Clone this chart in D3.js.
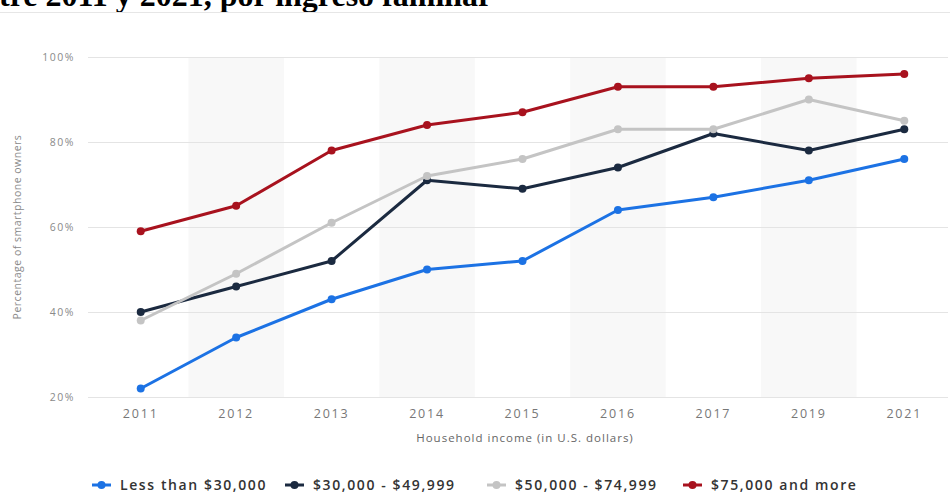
<!DOCTYPE html>
<html>
<head>
<meta charset="utf-8">
<script src="https://cdn.jsdelivr.net/npm/d3@7"></script>
<style>
  body { margin: 0; background: #fff; }
  svg { display: block; }
</style>
</head>
<body>
<svg id="chart" width="950" height="493"></svg>
<script>
// Data
var years = ["2011", "2012", "2013", "2014", "2015", "2016", "2017", "2019", "2021"];
var seriesNames = ["Less than $30,000", "$30,000 - $49,999", "$50,000 - $74,999", "$75,000 and more"];
var seriesColors = ["#1c72e4", "#1b2a40", "#c4c4c4", "#a8121e"];
var lessThan30k = [22, 34, 43, 50, 52, 64, 67, 71, 76];
var from30to50k = [40, 46, 52, 71, 69, 74, 82, 78, 83];
var from50to75k = [38, 49, 61, 72, 76, 83, 83, 90, 85];
var over75k = [59, 65, 78, 84, 87, 93, 93, 95, 96];
var yTicks = [20, 40, 60, 80, 100];

var allSeries = [lessThan30k, from30to50k, from50to75k, over75k];

var svg = d3.select("#chart"),
    width = +svg.attr("width"),
    height = +svg.attr("height");

// cut-off title from the page above
svg.append("text")
    .attr("x", -1)
    .attr("y", 6)
    .attr("font-family", "Liberation Serif, Times New Roman, serif")
    .attr("font-weight", "bold")
    .attr("font-size", 32)
    .attr("fill", "#000")
    .text("tre 2011 y 2021, por ingreso familiar");

svg.append("line")
    .attr("x1", 0).attr("x2", width)
    .attr("y1", 12.5).attr("y2", 12.5)
    .attr("stroke", "#e6e6e6");

// scales
var x = d3.scaleBand()
    .domain(years)
    .range([93, 952]);

var y = d3.scaleLinear()
    .domain([20, 100])
    .range([397, 57]);

// alternating column shading
svg.append("g")
    .selectAll("rect")
    .data(years.filter(function (d, i) { return i % 2 == 1; }))
    .enter()
    .append("rect")
    .attr("x", function (d) { return x(d); })
    .attr("y", y(100))
    .attr("width", x.bandwidth())
    .attr("height", y(20) - y(100))
    .attr("fill", "#f8f8f8");

// y gridlines + labels
var yAxis = svg.append("g")
    .attr("transform", "translate(88,0)")
    .call(d3.axisLeft(y)
        .tickValues(yTicks)
        .tickSize(-(948 - 88))
        .tickPadding(13)
        .tickFormat(function (d) { return d + "%"; }));
yAxis.select(".domain").remove();
yAxis.selectAll(".tick line").attr("stroke", "#e4e4e4");
yAxis.selectAll(".tick text")
    .attr("font-family", "Open Sans, sans-serif")
    .attr("font-size", 10.5)
    .attr("letter-spacing", "1.5px")
    .attr("fill", "#8a8a8a");

// x labels
var xAxis = svg.append("g")
    .attr("transform", "translate(0," + y(20) + ")")
    .call(d3.axisBottom(x).tickSize(0).tickPadding(12));
xAxis.select(".domain").remove();
xAxis.selectAll(".tick text")
    .attr("font-family", "Open Sans, sans-serif")
    .attr("font-size", 12.5)
    .attr("letter-spacing", "1.8px")
    .attr("fill", "#777");

// axis titles
svg.append("text")
    .attr("x", 525)
    .attr("y", 442)
    .attr("text-anchor", "middle")
    .attr("font-family", "Open Sans, sans-serif")
    .attr("font-size", 11.5)
    .attr("letter-spacing", "1px")
    .attr("fill", "#666")
    .text("Household income (in U.S. dollars)");

svg.append("text")
    .attr("transform", "translate(21,227) rotate(-90)")
    .attr("text-anchor", "middle")
    .attr("font-family", "Open Sans, sans-serif")
    .attr("font-size", 10.5)
    .attr("letter-spacing", "0.5px")
    .attr("fill", "#8a8a8a")
    .text("Percentage of smartphone owners");

// lines
var line = d3.line()
    .x(function (d, i) { return x(years[i]) + x.bandwidth() / 2; })
    .y(function (d) { return y(d); });

var groups = svg.append("g")
    .selectAll("g")
    .data(allSeries)
    .enter()
    .append("g");

groups.append("path")
    .attr("d", function (d) { return line(d); })
    .attr("fill", "none")
    .attr("stroke", function (d, i) { return seriesColors[i]; })
    .attr("stroke-width", 3)
    .attr("stroke-linejoin", "round");

groups.each(function (s, si) {
    d3.select(this).selectAll("circle")
        .data(s)
        .enter()
        .append("circle")
        .attr("cx", function (d, i) { return x(years[i]) + x.bandwidth() / 2; })
        .attr("cy", function (d) { return y(d); })
        .attr("r", 4)
        .attr("fill", seriesColors[si]);
});

// legend
var legendX = [92, 285, 487, 683];
var legend = svg.append("g")
    .selectAll("g")
    .data(seriesNames)
    .enter()
    .append("g")
    .attr("transform", function (d, i) { return "translate(" + legendX[i] + ",485)"; });

legend.append("line")
    .attr("x1", 0).attr("x2", 19)
    .attr("stroke", function (d, i) { return seriesColors[i]; })
    .attr("stroke-width", 3);
legend.append("circle")
    .attr("cx", 9.5)
    .attr("r", 4)
    .attr("fill", function (d, i) { return seriesColors[i]; });
legend.append("text")
    .attr("x", 28)
    .attr("y", 5)
    .attr("font-family", "Open Sans, sans-serif")
    .attr("font-size", 14)
    .attr("font-weight", 600)
    .attr("letter-spacing", "1.6px")
    .attr("fill", "#333")
    .text(function (d) { return d; });
</script>
</body>
</html>
